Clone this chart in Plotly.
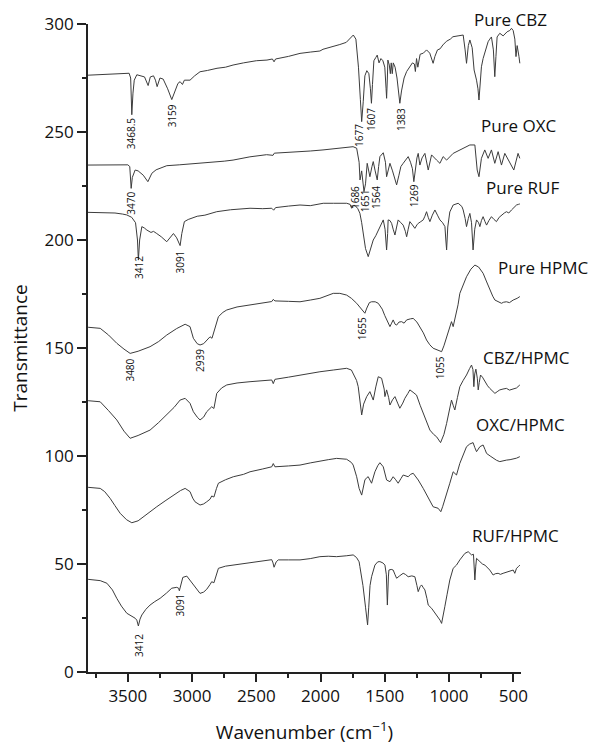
import plotly.graph_objects as go

# ---------------- data (wavenumber cm^-1, transmittance offset units) ----------------
cbz_wn = [3810, 3750, 3650, 3560, 3490, 3478, 3469, 3460, 3450, 3430, 3400, 3370, 3342, 3325, 3300, 3285, 3272, 3250, 3225, 3190, 3158, 3130, 3110, 3093, 3075, 3060, 3016, 2980, 2938, 2880, 2806, 2740, 2681, 2600, 2500, 2417, 2375, 2362, 2350, 2250, 2160, 2080, 2005, 1981, 1900, 1850, 1800, 1771, 1745, 1725, 1705, 1690, 1680, 1668, 1655, 1640, 1624, 1612, 1604, 1596, 1585, 1570, 1559, 1545, 1530, 1515, 1500, 1490, 1486, 1480, 1476, 1465, 1457, 1450, 1442, 1434, 1420, 1405, 1395, 1383, 1370, 1350, 1330, 1305, 1285, 1270, 1262, 1253, 1243, 1225, 1200, 1175, 1150, 1124, 1110, 1090, 1070, 1048, 1020, 990, 970, 930, 890, 875, 864, 850, 838, 820, 805, 786, 775, 767, 758, 748, 735, 722, 710, 696, 683, 670, 655, 644, 635, 626, 605, 579, 548, 527, 514, 501, 488, 479, 470, 463, 456, 449]
cbz_t = [276.3, 276.5, 276.8, 277.0, 277.2, 275.0, 258.0, 268.0, 274.0, 276.5, 276.0, 275.5, 271.5, 275.5, 276.0, 274.0, 271.0, 275.0, 274.5, 270.0, 265.0, 270.0, 272.5, 273.3, 272.0, 274.0, 274.0, 276.0, 277.9, 278.5, 279.5, 280.0, 281.0, 282.0, 283.0, 283.3, 283.8, 282.5, 283.8, 285.0, 286.4, 287.0, 287.5, 288.3, 289.5, 290.5, 291.5, 293.4, 294.9, 293.0, 280.0, 265.0, 254.8, 264.0, 276.0, 278.4, 277.0, 270.0, 263.3, 272.0, 283.0, 284.5, 285.6, 282.0, 284.0, 283.0, 280.0, 270.0, 265.6, 275.0, 283.3, 281.0, 277.0, 282.0, 277.0, 282.0, 280.0, 275.0, 268.0, 263.3, 269.0, 275.0, 278.0, 280.2, 282.0, 281.5, 278.0, 284.0, 280.0, 286.0, 286.5, 288.0, 286.5, 281.8, 285.0, 288.0, 288.5, 290.3, 292.0, 293.0, 294.1, 294.5, 294.9, 288.0, 281.8, 290.0, 292.6, 289.0, 278.7, 274.0, 270.0, 264.8, 272.0, 280.2, 284.0, 286.4, 289.0, 291.8, 293.0, 294.0, 288.0, 275.6, 285.0, 294.0, 295.7, 294.5, 296.4, 297.0, 298.0, 297.0, 293.0, 284.9, 290.0, 288.0, 285.0, 281.8]

oxc_wn = [3810, 3700, 3600, 3500, 3485, 3474, 3465, 3443, 3420, 3380, 3344, 3330, 3313, 3280, 3240, 3197, 3100, 3000, 2938, 2850, 2750, 2681, 2550, 2420, 2370, 2360, 2250, 2160, 2080, 1981, 1880, 1800, 1747, 1719, 1700, 1693, 1680, 1662, 1650, 1637, 1616, 1600, 1590, 1575, 1559, 1548, 1538, 1512, 1495, 1486, 1470, 1460, 1440, 1420, 1408, 1390, 1375, 1357, 1340, 1318, 1300, 1285, 1274, 1262, 1250, 1240, 1227, 1210, 1188, 1162, 1136, 1097, 1071, 1046, 1019, 968, 916, 870, 838, 799, 788, 781, 767, 748, 722, 696, 670, 644, 618, 592, 566, 527, 496, 463, 449]
oxc_t = [234.7, 234.8, 234.8, 234.8, 234.0, 223.9, 229.0, 232.4, 232.0, 230.0, 227.0, 229.0, 230.9, 232.5, 233.5, 234.4, 234.8, 235.2, 235.5, 236.0, 236.5, 237.0, 238.5, 239.5, 239.2, 240.2, 240.5, 240.9, 241.2, 241.7, 242.3, 242.8, 243.2, 242.5, 236.0, 227.8, 232.0, 222.4, 226.0, 235.5, 229.3, 234.0, 236.3, 232.0, 227.8, 234.0, 238.6, 240.4, 236.0, 229.3, 233.0, 235.5, 232.0, 228.0, 225.5, 230.0, 234.0, 235.5, 237.0, 238.6, 236.0, 233.0, 227.0, 234.0, 238.0, 240.1, 234.7, 238.0, 240.1, 232.4, 239.4, 237.0, 235.5, 238.6, 237.0, 240.1, 241.7, 243.0, 244.0, 244.0, 238.0, 232.4, 229.3, 237.8, 241.7, 237.8, 241.7, 235.5, 240.9, 234.7, 240.1, 235.5, 232.4, 240.1, 237.8]

ruf_wn = [3810, 3700, 3600, 3540, 3508, 3470, 3440, 3425, 3418, 3408, 3391, 3370, 3352, 3320, 3300, 3275, 3240, 3197, 3170, 3145, 3120, 3100, 3093, 3080, 3060, 3030, 3002, 2960, 2900, 2850, 2808, 2700, 2549, 2450, 2380, 2365, 2350, 2250, 2160, 2080, 1979, 1900, 1797, 1770, 1758, 1745, 1732, 1710, 1694, 1680, 1665, 1650, 1629, 1610, 1590, 1570, 1551, 1530, 1512, 1498, 1486, 1478, 1474, 1460, 1447, 1435, 1421, 1408, 1396, 1375, 1357, 1340, 1330, 1318, 1305, 1285, 1266, 1250, 1240, 1220, 1201, 1188, 1175, 1162, 1149, 1130, 1110, 1090, 1071, 1050, 1032, 1025, 1019, 1010, 994, 968, 929, 900, 890, 875, 864, 850, 838, 825, 813, 800, 786, 770, 760, 748, 735, 720, 708, 690, 670, 650, 631, 610, 592, 570, 553, 535, 514, 495, 475, 460, 449]
ruf_t = [212.8, 212.7, 212.5, 212.0, 211.6, 210.5, 208.0, 200.0, 190.7, 200.0, 206.2, 205.5, 204.6, 203.5, 204.0, 203.0, 201.5, 199.2, 201.0, 203.0, 201.0, 198.0, 197.4, 203.0, 208.5, 209.5, 210.0, 211.0, 211.5, 212.5, 213.1, 214.0, 214.7, 214.5, 214.7, 213.8, 215.0, 215.7, 216.2, 215.9, 217.0, 217.0, 217.0, 216.5, 214.7, 216.0, 216.0, 214.5, 212.4, 208.0, 202.0, 196.0, 192.3, 196.0, 200.0, 202.0, 204.6, 207.0, 209.3, 205.0, 195.4, 203.0, 209.3, 209.0, 207.7, 205.0, 202.3, 206.0, 209.3, 208.0, 206.9, 204.0, 201.5, 205.0, 208.5, 207.0, 205.4, 207.0, 207.7, 208.5, 209.3, 211.0, 213.1, 210.5, 208.5, 211.5, 213.9, 211.5, 209.3, 208.0, 206.2, 200.0, 195.4, 206.0, 213.0, 216.2, 217.0, 215.5, 213.9, 210.0, 206.2, 210.0, 212.3, 208.0, 195.4, 205.0, 209.3, 208.0, 206.2, 209.0, 210.8, 208.5, 206.9, 209.0, 210.8, 209.5, 208.5, 210.5, 211.6, 212.5, 213.1, 212.5, 213.9, 215.0, 216.2, 216.5, 216.7]

hpmc_wn = [3809, 3760, 3715, 3650, 3586, 3530, 3482, 3420, 3327, 3260, 3197, 3120, 3054, 3016, 2990, 2960, 2938, 2910, 2886, 2860, 2845, 2834, 2815, 2795, 2760, 2730, 2650, 2549, 2450, 2380, 2368, 2355, 2250, 2160, 2080, 2005, 1901, 1850, 1797, 1760, 1719, 1690, 1670, 1655, 1640, 1620, 1603, 1575, 1551, 1520, 1500, 1486, 1470, 1460, 1447, 1435, 1420, 1408, 1390, 1369, 1350, 1330, 1300, 1279, 1250, 1227, 1200, 1175, 1150, 1124, 1085, 1058, 1040, 1019, 995, 981, 968, 955, 942, 930, 916, 890, 864, 830, 799, 770, 735, 710, 683, 660, 643, 620, 592, 575, 553, 530, 501, 470, 449]
hpmc_t = [159.6, 159.5, 159.1, 156.0, 152.2, 149.5, 147.5, 148.5, 150.6, 153.0, 156.0, 159.0, 161.0, 159.9, 154.5, 152.0, 151.4, 152.0, 153.7, 155.2, 154.5, 156.8, 160.0, 164.5, 166.5, 167.6, 169.0, 169.9, 171.0, 171.5, 172.5, 171.8, 171.6, 171.4, 172.2, 173.0, 175.3, 175.3, 174.5, 173.0, 170.7, 168.5, 166.8, 166.1, 168.5, 171.0, 171.4, 171.4, 170.7, 168.0, 165.0, 163.0, 161.0, 159.9, 161.5, 163.0, 161.0, 160.6, 162.0, 162.2, 161.5, 163.0, 163.5, 163.7, 162.0, 159.9, 157.0, 153.7, 151.5, 149.9, 149.1, 148.3, 151.0, 155.2, 160.0, 162.2, 159.9, 163.0, 166.1, 170.0, 175.3, 179.5, 183.0, 186.5, 188.4, 187.5, 184.6, 181.0, 176.9, 174.0, 172.2, 171.5, 170.7, 171.2, 171.4, 171.0, 172.2, 173.0, 173.8]

cbzh_wn = [3809, 3760, 3715, 3650, 3586, 3530, 3482, 3420, 3327, 3260, 3197, 3140, 3093, 3054, 3016, 2990, 2960, 2938, 2910, 2886, 2847, 2830, 2808, 2770, 2730, 2650, 2549, 2450, 2380, 2368, 2355, 2250, 2160, 2080, 2005, 1901, 1797, 1760, 1746, 1720, 1707, 1690, 1680, 1665, 1641, 1616, 1600, 1590, 1570, 1551, 1525, 1505, 1499, 1486, 1470, 1460, 1440, 1421, 1400, 1383, 1360, 1344, 1320, 1305, 1280, 1253, 1225, 1201, 1175, 1149, 1120, 1097, 1066, 1040, 1019, 1000, 981, 968, 955, 935, 916, 890, 864, 840, 825, 814, 807, 800, 791, 780, 773, 765, 755, 740, 721, 700, 683, 660, 643, 620, 605, 580, 553, 530, 501, 475, 449]
cbzh_t = [125.6, 125.5, 125.1, 121.0, 116.7, 111.5, 108.2, 109.5, 112.0, 115.5, 119.0, 122.5, 125.9, 126.7, 124.4, 120.5, 118.0, 116.7, 118.0, 120.5, 122.8, 122.0, 129.0, 131.5, 132.9, 133.8, 134.4, 134.9, 135.2, 133.5, 135.5, 136.5, 137.5, 138.2, 139.0, 139.8, 140.6, 139.8, 138.3, 135.0, 132.1, 124.0, 119.0, 124.0, 127.5, 129.8, 127.5, 125.9, 132.0, 136.7, 136.0, 131.0, 127.5, 130.6, 127.0, 123.6, 126.0, 127.5, 124.5, 122.1, 124.5, 126.7, 129.0, 130.6, 129.5, 128.2, 123.5, 119.8, 116.0, 112.0, 110.0, 108.9, 106.2, 110.0, 115.1, 120.5, 125.9, 123.5, 121.3, 127.0, 132.1, 135.0, 137.5, 140.5, 142.1, 140.0, 132.1, 138.0, 140.2, 136.0, 130.6, 134.0, 137.5, 136.5, 134.4, 132.5, 131.3, 130.0, 129.0, 130.0, 130.6, 131.0, 131.3, 130.5, 130.9, 131.5, 132.9]

oxch_wn = [3809, 3760, 3715, 3680, 3638, 3600, 3560, 3510, 3469, 3420, 3379, 3330, 3275, 3210, 3145, 3090, 3054, 3016, 2995, 2977, 2938, 2910, 2886, 2860, 2847, 2830, 2810, 2795, 2740, 2679, 2600, 2549, 2450, 2380, 2368, 2355, 2250, 2160, 2080, 2005, 1940, 1875, 1797, 1760, 1746, 1719, 1700, 1680, 1665, 1655, 1640, 1629, 1603, 1590, 1577, 1555, 1538, 1512, 1495, 1486, 1460, 1435, 1415, 1396, 1375, 1357, 1318, 1300, 1279, 1260, 1240, 1201, 1162, 1124, 1085, 1064, 1050, 1033, 1010, 994, 968, 955, 942, 916, 864, 840, 813, 800, 786, 760, 735, 720, 708, 680, 657, 630, 605, 580, 553, 525, 501, 475, 449]
oxch_t = [85.5, 85.4, 85.0, 83.5, 80.4, 77.0, 73.5, 70.5, 69.1, 70.0, 71.9, 74.0, 76.5, 79.2, 81.9, 84.0, 85.0, 83.5, 80.5, 78.8, 77.3, 77.8, 78.8, 80.0, 81.5, 81.0, 85.0, 87.4, 89.0, 90.4, 91.5, 92.7, 94.0, 95.0, 96.5, 95.0, 95.4, 95.8, 96.8, 97.7, 98.3, 98.9, 98.5, 97.0, 95.8, 90.4, 85.0, 81.9, 86.0, 88.9, 90.0, 90.4, 87.4, 90.0, 92.7, 95.5, 96.9, 95.0, 91.0, 88.9, 88.1, 90.4, 89.0, 87.4, 89.5, 91.2, 90.4, 91.5, 92.0, 90.5, 88.9, 85.0, 80.4, 76.5, 75.8, 74.2, 76.5, 79.6, 84.0, 87.4, 92.7, 92.0, 91.2, 96.6, 104.3, 105.5, 106.2, 104.0, 102.0, 104.3, 105.1, 103.0, 101.2, 100.0, 98.9, 98.0, 97.4, 97.8, 98.1, 98.3, 98.5, 99.0, 99.7]

rufh_wn = [3809, 3760, 3715, 3663, 3620, 3586, 3550, 3508, 3470, 3443, 3430, 3418, 3405, 3391, 3360, 3327, 3290, 3249, 3200, 3158, 3119, 3105, 3099, 3090, 3072, 3041, 3015, 2990, 2960, 2938, 2910, 2886, 2860, 2847, 2830, 2810, 2795, 2740, 2679, 2550, 2419, 2380, 2370, 2362, 2345, 2329, 2250, 2160, 2080, 2005, 1940, 1875, 1800, 1746, 1720, 1700, 1694, 1670, 1650, 1640, 1634, 1625, 1615, 1603, 1590, 1577, 1555, 1538, 1515, 1499, 1488, 1480, 1472, 1468, 1450, 1435, 1420, 1408, 1385, 1357, 1340, 1318, 1290, 1266, 1250, 1240, 1225, 1214, 1200, 1188, 1172, 1162, 1136, 1110, 1085, 1070, 1058, 1045, 1033, 1015, 994, 968, 942, 916, 895, 877, 851, 825, 810, 803, 799, 792, 786, 760, 740, 721, 700, 683, 657, 640, 618, 600, 579, 560, 540, 520, 501, 488, 475, 460, 449]
rufh_t = [42.9, 42.7, 42.3, 41.1, 38.0, 34.1, 30.5, 27.2, 25.8, 24.9, 24.0, 21.3, 24.5, 26.4, 29.0, 31.0, 32.6, 34.1, 36.5, 38.8, 39.2, 38.8, 37.6, 40.0, 43.8, 44.4, 42.5, 40.3, 38.0, 36.4, 37.0, 38.3, 40.5, 41.8, 41.3, 45.5, 48.0, 49.0, 49.5, 50.7, 51.9, 52.0, 50.5, 48.5, 51.0, 51.9, 51.9, 51.9, 52.5, 53.4, 53.6, 53.4, 53.8, 54.2, 53.0, 51.0, 48.8, 40.0, 30.0, 23.0, 21.8, 30.0, 40.0, 44.1, 47.0, 49.5, 51.0, 51.1, 50.5, 49.5, 45.0, 31.0, 44.0, 47.2, 47.5, 47.2, 45.0, 43.4, 44.5, 45.7, 45.2, 44.1, 44.5, 44.1, 40.0, 37.2, 39.5, 40.3, 39.0, 38.0, 34.0, 31.0, 29.5, 27.2, 25.6, 24.0, 22.5, 26.0, 30.2, 36.0, 42.6, 48.0, 49.5, 51.9, 53.5, 54.9, 55.7, 54.2, 54.5, 48.0, 42.6, 49.0, 52.6, 51.1, 50.0, 49.5, 48.2, 47.2, 44.9, 45.5, 45.7, 45.2, 45.7, 46.0, 46.4, 46.8, 47.2, 45.7, 48.0, 48.8, 49.5]

series_names = ["Pure CBZ", "Pure OXC", "Pure RUF", "Pure HPMC", "CBZ/HPMC", "OXC/HPMC", "RUF/HPMC"]
series_wn = [cbz_wn, oxc_wn, ruf_wn, hpmc_wn, cbzh_wn, oxch_wn, rufh_wn]
series_t = [cbz_t, oxc_t, ruf_t, hpmc_t, cbzh_t, oxch_t, rufh_t]

# series name label anchors, in data units (wavenumber, transmittance)
name_wn = [519, 457, 426, 267, 395, 442, 481]
name_t = [302.3, 252.8, 224.5, 187.2, 145.4, 114.4, 63.4]

# peak labels: text, wavenumber, transmittance at label top
peak_text = ["3468.5", "3159", "1677", "1607", "1383",
             "3470", "1686", "1651", "1564", "1269",
             "3412", "3091",
             "3480", "2939", "1655", "1055",
             "3412", "3091"]
peak_wn = [3469, 3158, 1700, 1603, 1369,
           3474, 1727, 1647, 1564, 1266,
           3418, 3093,
           3482, 2943, 1680, 1071,
           3418, 3093]
peak_t = [257.0, 263.4, 254.0, 261.6, 261.6,
          222.7, 225.5, 224.1, 225.5, 226.4,
          193.0, 195.4,
          145.4, 150.0, 164.8, 146.8,
          18.0, 36.6]

X_RANGE = [3810, 440]
Y_RANGE = [0, 300]

# ---------------- figure ----------------
FONT = "Open Sans"
LINE = "#3c3c3c"
TXT = "#111111"

fig = go.Figure()
for name, wn, t in zip(series_names, series_wn, series_t):
    fig.add_trace(go.Scatter(x=wn, y=t, mode="lines", name=name,
                             line=dict(color=LINE, width=1), showlegend=False))


def to_paper_x(v):
    return (X_RANGE[0] - v) / (X_RANGE[0] - X_RANGE[1])


def to_paper_y(v):
    return (v - Y_RANGE[0]) / (Y_RANGE[1] - Y_RANGE[0])


annotations = []
for name, x, y in zip(series_names, name_wn, name_t):
    annotations.append(dict(x=to_paper_x(x), y=to_paper_y(y), xref="paper", yref="paper",
                            text=name, showarrow=False, xanchor="center", yanchor="middle",
                            font=dict(family=FONT, size=17, color=TXT)))
for txt, x, y in zip(peak_text, peak_wn, peak_t):
    annotations.append(dict(x=x, y=y, xref="x", yref="y", text=txt, showarrow=False,
                            textangle=-90, xanchor="center", yanchor="top", borderpad=0,
                            font=dict(family=FONT, size=10, color=TXT)))

fig.update_layout(
    width=594, height=745,
    margin=dict(l=88, r=73, t=24, b=73, autoexpand=False),
    paper_bgcolor="white", plot_bgcolor="white",
    font=dict(family=FONT, size=17, color=TXT),
    annotations=annotations,
    showlegend=False,
)
fig.update_xaxes(
    range=X_RANGE, tick0=0, dtick=500, ticks="outside", ticklen=8, tickwidth=1.5,
    tickcolor="#222", showline=True, linecolor="#222", linewidth=1.8, showgrid=False,
    zeroline=False, automargin=False, tickfont=dict(family=FONT, size=17, color=TXT),
    minor=dict(dtick=250, tick0=0, ticks="outside", ticklen=4, tickwidth=1.5, tickcolor="#222", showgrid=False),
    title=dict(text="Wavenumber (cm<sup>−1</sup>)", font=dict(family=FONT, size=19, color=TXT), standoff=24),
)
fig.update_yaxes(
    range=Y_RANGE, tick0=0, dtick=50, ticks="outside", ticklen=9, tickwidth=1.5,
    tickcolor="#222", showline=True, linecolor="#222", linewidth=1.8, showgrid=False,
    zeroline=False, automargin=False, tickfont=dict(family=FONT, size=17, color=TXT),
    minor=dict(dtick=25, tick0=0, ticks="outside", ticklen=4, tickwidth=1.5, tickcolor="#222", showgrid=False),
    title=dict(text="Transmittance", font=dict(family=FONT, size=19, color=TXT), standoff=12),
)

fig.write_html("out.html")
